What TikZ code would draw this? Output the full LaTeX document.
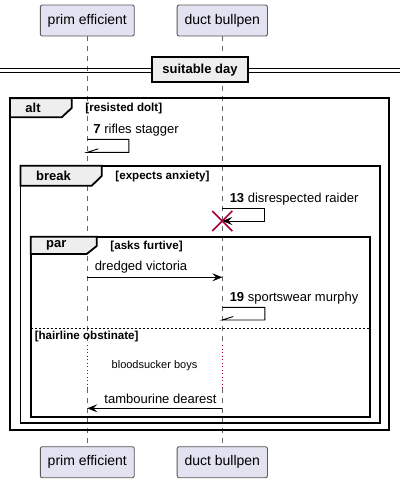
\documentclass[tikz,border=0pt]{standalone}
\usepackage{fontspec}
\setmainfont{Liberation Sans}
\usetikzlibrary{arrows.meta,positioning,calc}
\definecolor{actorbg}{HTML}{E2E2F0}
\definecolor{tabbg}{HTML}{EEEEEE}
\definecolor{crim}{HTML}{A80036}

\begin{document}
\begin{tikzpicture}[x=1pt,y=-1pt,>={Stealth[length=10pt,width=8pt,inset=4pt]},line width=0.9pt,
  actor/.style={draw=black!65,fill=actorbg,rounded corners=2pt,minimum height=31pt,inner xsep=7.4pt,font=\fontsize{14}{17}\selectfont},
  life/.style={draw=black!60,line width=0.7pt,dash pattern=on 5pt off 5pt},
  delay/.style={draw=crim,line width=0.8pt,dash pattern=on 1pt off 2.5pt},
  msg/.style={anchor=west,inner sep=0pt,font=\fontsize{13}{15}\selectfont},
  guard/.style={anchor=west,inner sep=0pt,font=\bfseries\fontsize{11.6}{13}\selectfont},
  kind/.style={anchor=west,inner sep=0pt,font=\bfseries\fontsize{13}{15}\selectfont},
  frm/.style={draw,line width=1.8pt},
  tab/.style={draw,fill=tabbg,line width=1.8pt}]
  \useasboundingbox (0,0) rectangle (405,483);

  % participants
  \node[actor] (pet) at (87.3,20.5) {prim efficient};
  \node[actor] (dbt) [right=42pt of pet] {duct bullpen};
  \node[actor] (peb) at (87.3,462.2) {prim efficient};
  \node[actor] (dbb) [right=42pt of peb] {duct bullpen};

  % lifelines, dotted during the delay
  \coordinate (dl1) at (0,345);
  \coordinate (dl2) at (0,388);
  \foreach \t/\b in {pet/peb,dbt/dbb} {
    \draw[life] (\t.south) -- (\t |- dl1);
    \draw[delay] (\t |- dl1) -- (\t |- dl2);
    \draw[life] (\t |- dl2) -- (\b.north);
  }

  % divider
  \draw (0,68.7) -- (400,68.7) (0,72) -- (400,72);
  \node[draw,fill=tabbg,line width=1.8pt,minimum width=96.6pt,minimum height=25pt,font=\bfseries\fontsize{13}{15}\selectfont] (sd) at (200,69.8) {suitable day};

  % frames
  \draw[frm] (10,98.3) rectangle (389.3,430);
  \draw[tab] (10,98.3) -- (71.7,98.3) -- (71.7,108) -- (61.7,117.3) -- (10,117.3) -- cycle;
  \node[kind] (alt) at (25,107.5) {alt};
  \node[guard] (g1) at (85,108) {[resisted dolt]};

  \draw[frm] (20.5,165.7) rectangle (380,423.3);
  \draw[tab] (20.5,165.7) -- (101.7,165.7) -- (101.7,176) -- (91.7,185.7) -- (20.5,185.7) -- cycle;
  \node[kind] (brk) at (35.7,175.5) {break};
  \node[guard] (g2) at (115,176.7) {[expects anxiety]};

  \draw[frm] (30.7,236.7) rectangle (370,416.7);
  \draw[tab] (30.7,236.7) -- (96.7,236.7) -- (96.7,246) -- (86.7,254) -- (30.7,254) -- cycle;
  \node[kind] (par) at (45.7,245.5) {par};
  \node[guard] (g3) at (110,246.7) {[asks furtive]};
  \draw[line width=0.8pt,dash pattern=on 2pt off 2pt] (30.7,328) -- (370,328);
  \node[guard] (g4) at (34.3,336.7) {[hairline obstinate]};

  % messages
  \node[msg] (t7) at (93,130) {\textbf{7} rifles stagger};
  \coordinate (s7) at (pet |- 0,139.3);
  \coordinate (s7e) at (pet |- 0,152.3);
  \draw (s7) -- ++(41.6,0) |- (s7e) -- ++(11,-3.5);

  \node[msg] (t13) at (229.3,199.3) {\textbf{13} disrespected raider};
  \coordinate (s13) at (dbt |- 0,208.3);
  \coordinate (s13e) at (dbt |- 0,221);
  \draw[->] (s13) -- ++(42.6,0) |- (s13e);
  \draw[crim,line width=1.5pt] (s13e) +(-10,-10) -- +(10,10) +(-10,10) -- +(10,-10);

  \node[msg] (t14) at (94.3,267.5) {dredged victoria};
  \coordinate (m1a) at (pet |- 0,277.3);
  \coordinate (m1b) at (dbt |- 0,277.3);
  \draw[->] (m1a) -- (m1b);

  \node[msg] (t19) at (229.3,298.3) {\textbf{19} sportswear murphy};
  \coordinate (s19) at (dbt |- 0,307.3);
  \coordinate (s19e) at (dbt |- 0,320);
  \draw (s19) -- ++(42.6,0) |- (s19e) -- ++(11,-3.5);

  \node[inner sep=0pt,font=\fontsize{11}{13}\selectfont] (dly) at (154.5,366) {bloodsucker boys};

  \node[msg] (t20) at (104,399.3) {tambourine dearest};
  \coordinate (m2a) at (dbt |- 0,408.3);
  \coordinate (m2b) at (pet |- 0,408.3);
  \draw[->] (m2a) -- (m2b);
\end{tikzpicture}
\end{document}
